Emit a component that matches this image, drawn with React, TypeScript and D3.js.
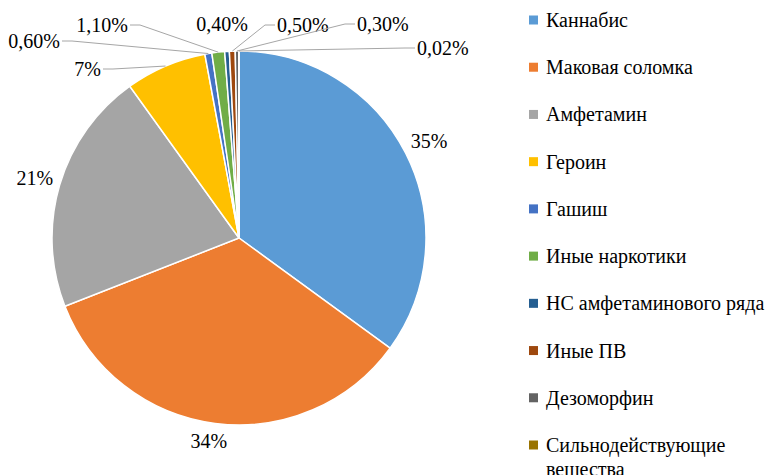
import React from "react";
import * as d3 from "d3";

// categories, values and data labels
const categories = [
  "Каннабис",
  "Маковая соломка",
  "Амфетамин",
  "Героин",
  "Гашиш",
  "Иные наркотики",
  "НС амфетаминового ряда",
  "Иные ПВ",
  "Дезоморфин",
  "Сильнодействующие вещества",
];
const shares = [35, 34, 21, 7, 0.6, 1.1, 0.4, 0.5, 0.3, 0.02];
const shareLabels = ["35%", "34%", "21%", "7%", "0,60%", "1,10%", "0,40%", "0,50%", "0,30%", "0,02%"];
const colors = ["#5B9BD5", "#ED7D31", "#A5A5A5", "#FFC000", "#4472C4", "#70AD47", "#255E91", "#9E480E", "#636363", "#997300"];

// layout for the labels of the thin slices (leader end point, side of text)
// null = label placed next to the slice without a leader
const leaderEnds: ([number, number, string] | null)[] = [
  null, null, null,
  [103, 69, "left"],
  [62, 41, "left"],
  [130, 25, "left"],
  null,
  [275, 25, "right"],
  [355, 24, "right"],
  [415, 48, "right"],
];

const W = 766, H = 475;
const cx = 239, cy = 238, R = 187;
const FONT = "Liberation Serif";
const FS = 20;

export default function App() {
  const pie = d3.pie<number>().sort(null).value(d => d).startAngle(0).endAngle(2 * Math.PI);
  const arcs = pie(shares);
  const arc = d3.arc<d3.PieArcDatum<number>>().innerRadius(0).outerRadius(R);

  const labels = arcs.map((a, i) => {
    const mid = (a.startAngle + a.endAngle) / 2;
    const dx = Math.sin(mid), dy = -Math.cos(mid);
    const edge: [number, number] = [cx + dx * R, cy + dy * R];
    const le = leaderEnds[i];
    if (le) {
      const [ex, ey, side] = le;
      const elbowX = side === "left" ? ex + 10 : ex - 10;
      return (
        <g key={i}>
          <polyline
            points={`${edge[0]},${edge[1]} ${elbowX},${ey} ${ex},${ey}`}
            fill="none" stroke="#a6a6a6" strokeWidth={1} />
          <text x={side === "left" ? ex - 2 : ex + 2} y={ey} dy="0.35em"
            textAnchor={side === "left" ? "end" : "start"}>{shareLabels[i]}</text>
        </g>
      );
    }
    if (a.endAngle - a.startAngle < 0.1) {
      // tiny slice labelled right above itself
      return (
        <text key={i} x={edge[0] - 5} y={edge[1] - 27} dy="0.35em" textAnchor="middle">{shareLabels[i]}</text>
      );
    }
    // outside end: keep label box a few px away from the rim
    const w = shareLabels[i].length * FS * 0.6, h = FS * 0.95;
    const ext = Math.abs(dx) * w / 2 + Math.abs(dy) * h / 2;
    const rr = R + 6 + ext;
    return (
      <text key={i} x={cx + dx * rr - (dy > 0.9 ? 4 : 0)} y={cy + dy * rr} dy="0.35em" textAnchor="middle">{shareLabels[i]}</text>
    );
  });

  const rowY = d3.scalePoint<string>().domain(categories).range([20, 445]);

  return (
    <svg width={W} height={H} style={{ position: "absolute", left: 0, top: 0, background: "#fff", fontFamily: FONT, fontSize: FS }}
      fill="#000">
      <g transform={`translate(${cx},${cy})`}>
        {arcs.map((a, i) => (
          <path key={i} d={arc(a) || ""} fill={colors[i]} stroke="#fff" strokeWidth={1.5} />
        ))}
      </g>
      {labels}
      <g>
        {categories.map((c, i) => {
          const y = rowY(c) || 0;
          const lines = c === "Сильнодействующие вещества" ? ["Сильнодействующие", "вещества"] : [c];
          return (
            <g key={c}>
              <rect x={529} y={y - 4.5} width={9} height={9} fill={colors[i]} />
              {lines.map((ln, j) => (
                <text key={j} x={546} y={y + j * 24} dy="0.35em">{ln}</text>
              ))}
            </g>
          );
        })}
      </g>
    </svg>
  );
}
